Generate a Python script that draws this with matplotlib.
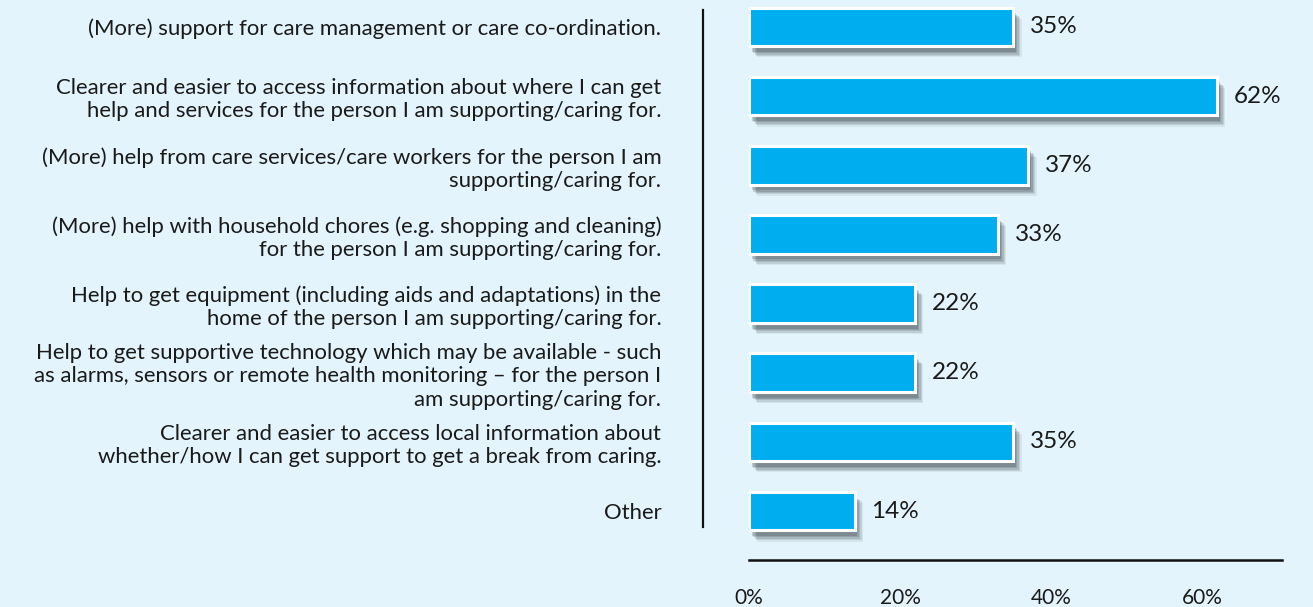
import matplotlib
matplotlib.use("Agg")
import matplotlib.pyplot as plt
import matplotlib.patheffects as pe

# data
categories = [
    "(More) support for care management or care co-ordination.",
    "Clearer and easier to access information about where I can get\nhelp and services for the person I am supporting/caring for.",
    "(More) help from care services/care workers for the person I am\nsupporting/caring for.",
    "(More) help with household chores (e.g. shopping and cleaning)\nfor the person I am supporting/caring for.",
    "Help to get equipment (including aids and adaptations) in the\nhome of the person I am supporting/caring for.",
    "Help to get supportive technology which may be available - such\nas alarms, sensors or remote health monitoring \u2013 for the person I\nam supporting/caring for.",
    "Clearer and easier to access local information about\nwhether/how I can get support to get a break from caring.",
    "Other",
]
values = [35, 62, 37, 33, 22, 22, 35, 14]
xticks = [0, 20, 40, 60]
xtick_labels = ["0%", "20%", "40%", "60%"]

bg = "#e3f4fc"
bar_color = "#00aeef"

plt.rcParams["font.family"] = ["Lato", "DejaVu Sans"]

fig = plt.figure(figsize=(13.13, 6.07), dpi=100, facecolor=bg)
ax = fig.add_axes([749 / 1313, 47 / 607, 533 / 1313, 560 / 607])
ax.set_facecolor(bg)

y = list(range(len(values)))

# soft shadow, built from a few offset layers
shadow = [pe.SimplePatchShadow(offset=(d, -d - 2), shadow_rgbFace="#2e363c", alpha=a)
          for d, a in [(6, 0.08), (5, 0.12), (4, 0.15), (3, 0.18), (2, 0.2)]]
bars = ax.barh(y, values, height=0.56, color=bar_color, edgecolor="white", linewidth=2.2)
for b in bars:
    b.set_path_effects(shadow + [pe.Normal()])

for yi, v in zip(y, values):
    ax.annotate(f"{v}%", xy=(v, yi), xytext=(12, 0), textcoords="offset points",
                va="center", ha="left", fontsize=17.5, color="#1a1a1a")

ax.set_xlim(0, 70.6)
ax.set_ylim(7 + 49 / 69.2, -27 / 69.2)

ax.tick_params(axis="x", length=0, pad=20, labelsize=15, labelcolor="#1a1a1a")
ax.tick_params(axis="y", length=0, pad=30, labelsize=15.9, labelcolor="#1a1a1a")
ax.set_xticks(xticks)
ax.set_xticklabels(xtick_labels)
ax.set_yticks(y)
ax.set_yticklabels(categories)
for lab in ax.get_yticklabels():
    lab.set_linespacing(0.95)

for s in ["top", "right"]:
    ax.spines[s].set_visible(False)
ax.spines["bottom"].set_linewidth(1.8)
ax.spines["bottom"].set_color("#111111")
ax.spines["left"].set_position(("data", -46 / 7.55))
ax.spines["left"].set_bounds(-17 / 69.2, 500 / 69.2)
ax.spines["left"].set_linewidth(1.6)
ax.spines["left"].set_color("#111111")

fig.savefig("out.png", dpi=100, facecolor=bg)
